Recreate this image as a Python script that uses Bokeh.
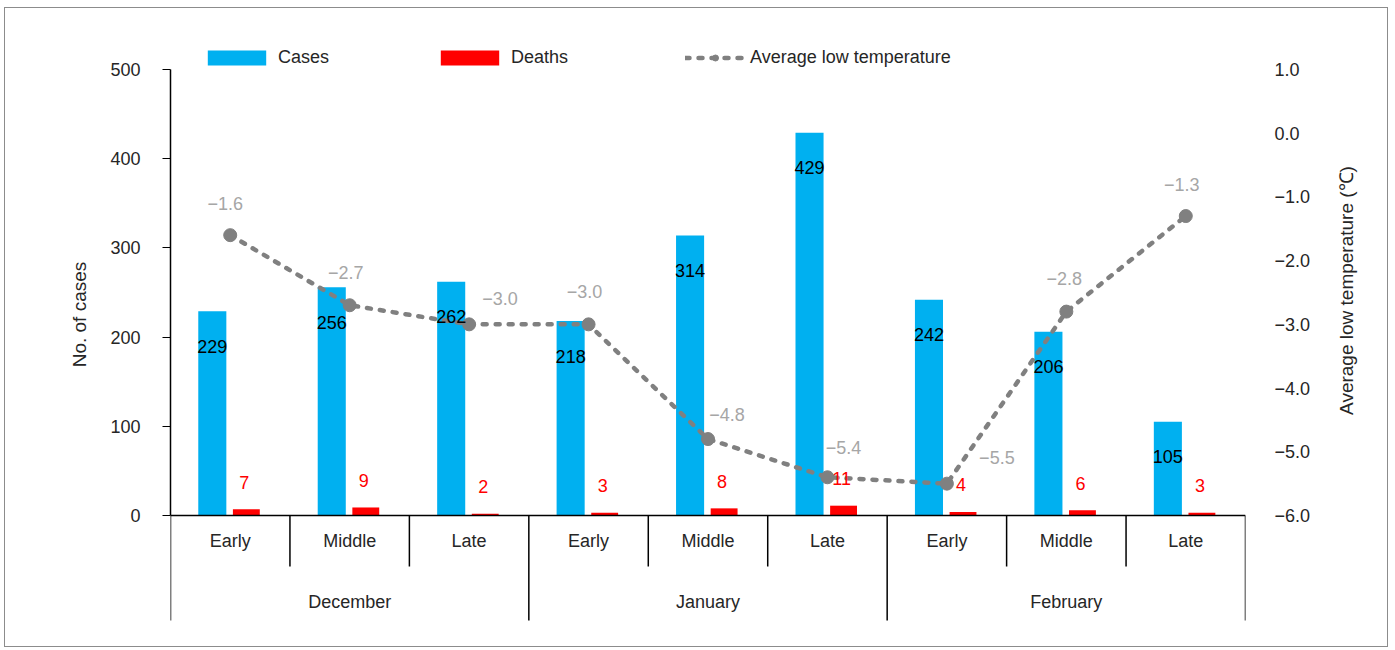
import math
import numpy as np
from bokeh.plotting import figure
from bokeh.models import (Range1d, LinearAxis, FixedTicker, CustomJSTickFormatter,
                          Legend, LegendItem, ColumnDataSource, Label)
from bokeh.core.properties import value
from bokeh.transform import dodge
from bokeh.embed import file_html
from bokeh.resources import INLINE

# ---------------- data ----------------
months = ["December", "January", "February"]
periods = ["Early", "Middle", "Late"]
cases = [229, 256, 262, 218, 314, 429, 242, 206, 105]
deaths = [7, 9, 2, 3, 8, 11, 4, 6, 3]
temp_low = [-1.6, -2.7, -3.0, -3.0, -4.8, -5.4, -5.5, -2.8, -1.3]
left_ticks = [0, 100, 200, 300, 400, 500]
right_ticks = [-6, -5, -4, -3, -2, -1, 0, 1]

# ---------------- styling ----------------
FONT = "Liberation Sans"
TXT = "#262626"
C_CASES = "#00B0F0"
C_DEATHS = "#FF0000"
C_TEMP = "#808080"
C_TEMP_LBL = "#A6A6A6"
# manual label nudges for the temperature labels (px)
temp_lbl_dx = [-5, -4, 31, -4, 19, 16, 50, -2, -4]
temp_lbl_dy = [-32, -33, -26, -33, -25, -30, -26, -33, -32]

W, H = 1384, 640
FR_L, FR_R, FR_T, FR_B = 165, 144, 22, 26
frame_h = H - FR_T - FR_B
frame_w = W - FR_L - FR_R
PX = 500 / 446.0  # units per px on left scale
TOP_PAD = 39
y_end = 500 + TOP_PAD * PX
y_start = -(frame_h - TOP_PAD - 446) * PX

n = len(cases)
idx = np.arange(n) + 0.5

p = figure(width=W, height=H, output_backend="svg", toolbar_location=None,
           x_range=Range1d(0, n), y_range=Range1d(y_start, y_end),
           x_axis_location=None, y_axis_location=None,
           min_border_left=FR_L, min_border_right=FR_R,
           min_border_top=FR_T, min_border_bottom=FR_B)
p.outline_line_color = None
p.xgrid.visible = False
p.ygrid.visible = False
p.background_fill_color = "white"
p.border_fill_color = "white"
p.styles = {"border": "1px solid #8c8c8c", "margin-left": "4px", "margin-top": "7px"}

p.extra_y_ranges = {"temp": Range1d(-6 + y_start * 7 / 500, -6 + y_end * 7 / 500)}

# left axis
la = LinearAxis(bounds=(0, 500), ticker=FixedTicker(ticks=left_ticks))
la.axis_line_color = "black"
la.axis_line_width = 1.5
la.major_tick_line_color = "black"
la.major_tick_line_width = 1.2
la.major_tick_in = 0
la.major_tick_out = 8
la.minor_tick_line_color = None
la.major_label_standoff = 22
la.major_label_text_font = FONT
la.major_label_text_font_size = "18px"
la.major_label_text_color = TXT
p.add_layout(la, "left")

# right axis
ra = LinearAxis(y_range_name="temp", bounds=(-6, 1),
                ticker=FixedTicker(ticks=right_ticks),
                formatter=CustomJSTickFormatter(
                    code="return (tick < 0 ? '\u2212' : '') + Math.abs(tick).toFixed(1);"))
ra.axis_line_color = None
ra.major_tick_line_color = None
ra.minor_tick_line_color = None
ra.major_label_standoff = 23
ra.major_label_text_font = FONT
ra.major_label_text_font_size = "18px"
ra.major_label_text_color = TXT
p.add_layout(ra, "right")

# axis titles (both read bottom-to-top, as in the original)
p.add_layout(Label(x=33, y=frame_h - (290 - 30), x_units="screen", y_units="screen",
                   text="Average low temperature (\u2103)", angle=math.pi / 2,
                   text_align="center", text_baseline="middle",
                   text_font=FONT, text_font_size="19px", text_color=TXT), "right")
p.add_layout(Label(x=-7, y=frame_h - (314 - 30), x_units="screen", y_units="screen",
                   text="No. of cases", angle=math.pi / 2,
                   text_align="center", text_baseline="middle",
                   text_font=FONT, text_font_size="19px", text_color=TXT), "left")

# data source
src = ColumnDataSource(dict(x=idx, cases=cases, deaths=deaths, temp=temp_low,
                            cases_lbl=[str(v) for v in cases],
                            deaths_lbl=[str(v) for v in deaths],
                            temp_lbl=["\u2212%.1f" % abs(v) if v < 0 else "%.1f" % v for v in temp_low],
                            dx=temp_lbl_dx, dy=temp_lbl_dy))

# bars
r_cases = p.vbar(x=dodge("x", -0.15, range=p.x_range), top="cases", width=0.235,
                 bottom=0, source=src, fill_color=C_CASES, line_color=None)
r_deaths = p.vbar(x=dodge("x", 0.135, range=p.x_range), top="deaths", width=0.225,
                  bottom=0, source=src, fill_color=C_DEATHS, line_color=None)

# x axis line & separators
p.segment(x0=[0], y0=[0], x1=[n], y1=[0], line_color="black", line_width=1.5)
minor_b = [k for k in range(n + 1) if k % 3 != 0]
major_b = [k for k in range(n + 1) if k % 3 == 0]
p.segment(x0=minor_b, y0=[0] * len(minor_b), x1=minor_b, y1=[-51 * PX] * len(minor_b),
          line_color="black", line_width=1.5)
p.segment(x0=major_b, y0=[0] * len(major_b), x1=major_b, y1=[-105 * PX] * len(major_b),
          line_color="black", line_width=1.5)

# category labels
p.text(x=list(idx), y=[-25 * PX] * n, text=periods * len(months),
       text_font=value(FONT), text_font_size="18px", text_color=TXT,
       text_align="center", text_baseline="middle")
p.text(x=[1.5, 4.5, 7.5], y=[-86 * PX] * 3, text=months,
       text_font=value(FONT), text_font_size="18px", text_color=TXT,
       text_align="center", text_baseline="middle")

# temperature line
r_line = p.line(x="x", y="temp", source=src, y_range_name="temp", line_color=C_TEMP,
                line_width=4.5, line_dash="4 9", line_cap="round")
r_pts = p.scatter(x="x", y="temp", source=src, y_range_name="temp", size=13,
                  fill_color=C_TEMP, line_color=C_TEMP)

# value labels
p.text(x=dodge("x", -0.15, range=p.x_range), y="cases", text="cases_lbl", source=src,
       y_offset=35, text_font=value(FONT), text_font_size="18px", text_color="black",
       text_align="center", text_baseline="middle")
p.text(x=dodge("x", 0.135, range=p.x_range), y="deaths", text="deaths_lbl", source=src,
       y_offset=-27, x_offset=-2, text_font=value(FONT), text_font_size="18px",
       text_color=C_DEATHS, text_align="center", text_baseline="middle")
p.text(x="x", y="temp", text="temp_lbl", source=src, y_range_name="temp",
       x_offset="dx", y_offset="dy", text_font=value(FONT), text_font_size="18px",
       text_color=C_TEMP_LBL, text_align="center", text_baseline="middle")

# legends (one per entry, placed like the original)
def make_legend(label, renderers, loc, gw, gh):
    lg = Legend(items=[LegendItem(label=label, renderers=renderers)],
                orientation="horizontal", location=loc,
                glyph_width=gw, glyph_height=gh, label_height=gh,
                label_standoff=5, spacing=0, padding=0, margin=0,
                border_line_color=None, background_fill_alpha=0,
                label_text_font=FONT, label_text_font_size="18px",
                label_text_color=TXT)
    p.add_layout(lg, "center")

LEG_CY = frame_h - (58 - 30)  # legend centre, px above frame bottom
make_legend("Cases", [r_cases], (30, LEG_CY - 9.5), 73, 19)
make_legend("Deaths", [r_deaths], (263, LEG_CY - 9.5), 73, 19)
make_legend("Average low temperature", [r_line, r_pts], (515, LEG_CY - 9.5), 60, 15)

open("out.html", "w").write(file_html(p, INLINE))
